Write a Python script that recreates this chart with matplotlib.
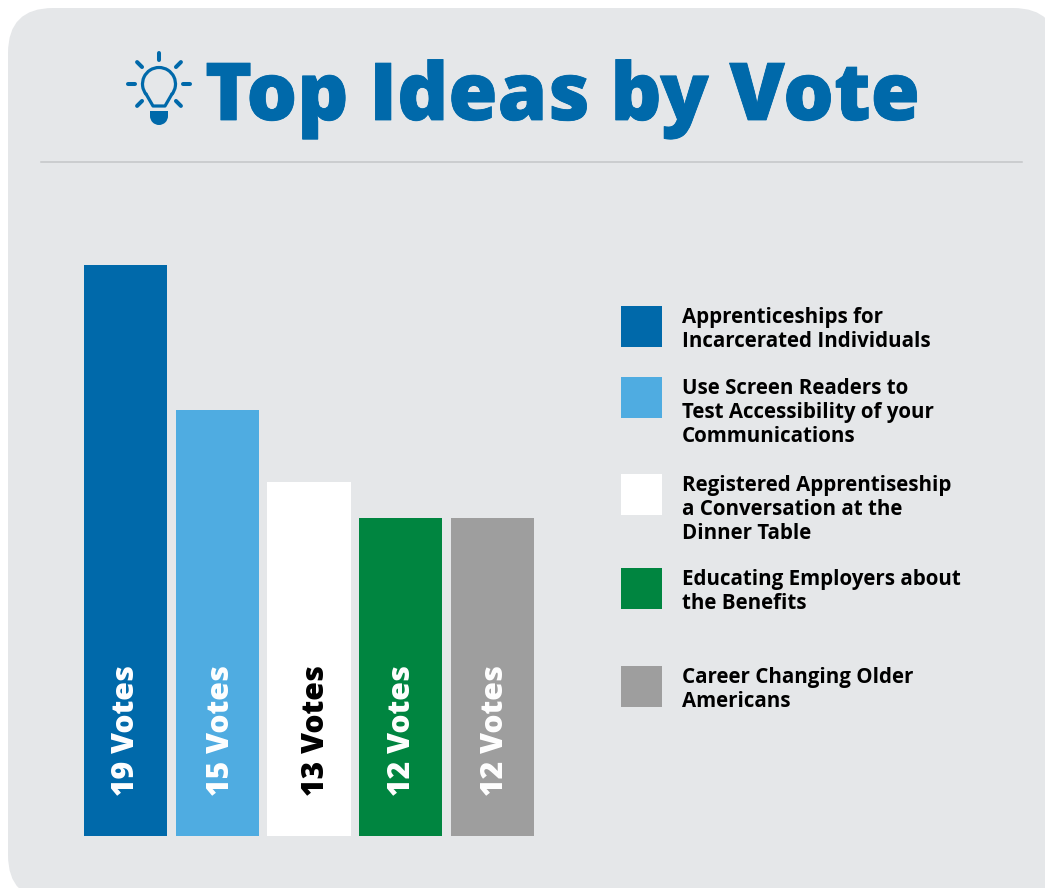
import numpy as np
import matplotlib
matplotlib.use("Agg")
import matplotlib.pyplot as plt
import matplotlib.patheffects as pe
from matplotlib.patches import FancyBboxPatch, Rectangle, Wedge, Arc

plt.rcParams['font.family'] = ['Open Sans', 'DejaVu Sans']

ideas = [
    "Apprenticeships for\nIncarcerated Individuals",
    "Use Screen Readers to\nTest Accessibility of your\nCommunications",
    "Registered Apprentiseship\na Conversation at the\nDinner Table",
    "Educating Employers about\nthe Benefits",
    "Career Changing Older\nAmericans",
]
votes = [19, 15, 13, 12, 12]
bar_colors = ["#0069AA", "#4FACE1", "#FFFFFF", "#008540", "#9E9E9E"]
label_colors = ["white", "white", "black", "white", "white"]
swatch_tops = [306, 377, 474, 568, 666]
label_nudge = [1, 4, 7, 1, 2]

BG = "#E5E7E9"
BLUE = "#0069AA"
W, H = 1045, 888

fig = plt.figure(figsize=(W / 100, H / 100), dpi=100, facecolor="white")

# pixel canvas for the panel, header and key
bg = fig.add_axes([0, 0, 1, 1])
bg.set_xlim(0, W)
bg.set_ylim(H, 0)
bg.axis("off")

bg.add_patch(FancyBboxPatch((8, 8), 1050, 892, boxstyle="round,pad=0,rounding_size=45",
                            fc=BG, ec="none"))
bg.plot([41, 1022], [162, 162], color="#C4C6C8", lw=1.1)
bg.text(205, 120, "Top Ideas by Vote", color=BLUE, fontsize=57.4, fontweight=800,
        ha="left", va="baseline",
        path_effects=[pe.withStroke(linewidth=0.6, foreground=BLUE)])

# light bulb icon
cx, cy = 159, 84
lw = 2.3
bg.add_patch(Arc((cx, cy), 33, 33, theta1=140, theta2=40, color=BLUE, lw=lw))
bg.plot([cx - 12.6, cx - 6, cx + 6, cx + 12.6], [cy + 10.6, cy + 22, cy + 22, cy + 10.6],
        color=BLUE, lw=lw, solid_joinstyle="round")
bg.add_patch(Rectangle((cx - 9, cy + 27), 18, 5, fc=BLUE, ec="none"))
bg.add_patch(Wedge((cx, cy + 32), 9, 0, 180, fc=BLUE, ec="none", transform=bg.transData))
for ang in [0, 45, 90, 135, 180, 225, 315]:
    a = np.deg2rad(ang)
    bg.plot([cx + 24 * np.cos(a), cx + 31 * np.cos(a)],
            [cy - 24 * np.sin(a), cy - 31 * np.sin(a)],
            color=BLUE, lw=2.9, solid_capstyle="round")

# key
for top, idea, color in zip(swatch_tops, ideas, bar_colors):
    bg.add_patch(Rectangle((621, top), 41, 41, fc=color, ec="none"))
    bg.text(682, top + 1, idea, color="black", fontsize=14.8, fontweight="bold",
            ha="left", va="top", linespacing=1.2)

# bars, the value axis starts a little above zero
v0 = 3.17
chart = fig.add_axes([84 / W, 1 - 836 / H, 450 / W, 600 / H])
chart.set_xlim(-0.452, 4.452)
chart.set_ylim(v0, v0 + 600 / 36.05)
chart.axis("off")
chart.bar(range(len(votes)), votes, width=0.905, color=bar_colors)

for i, v in enumerate(votes):
    chart.annotate("{} Votes".format(v), xy=(i, v0), xytext=(label_nudge[i] * 0.72, 29),
                   textcoords="offset points", rotation=90, ha="center", va="bottom",
                   color=label_colors[i], fontsize=21.7, fontweight=800)

fig.savefig("out.png", dpi=100, facecolor="white")
